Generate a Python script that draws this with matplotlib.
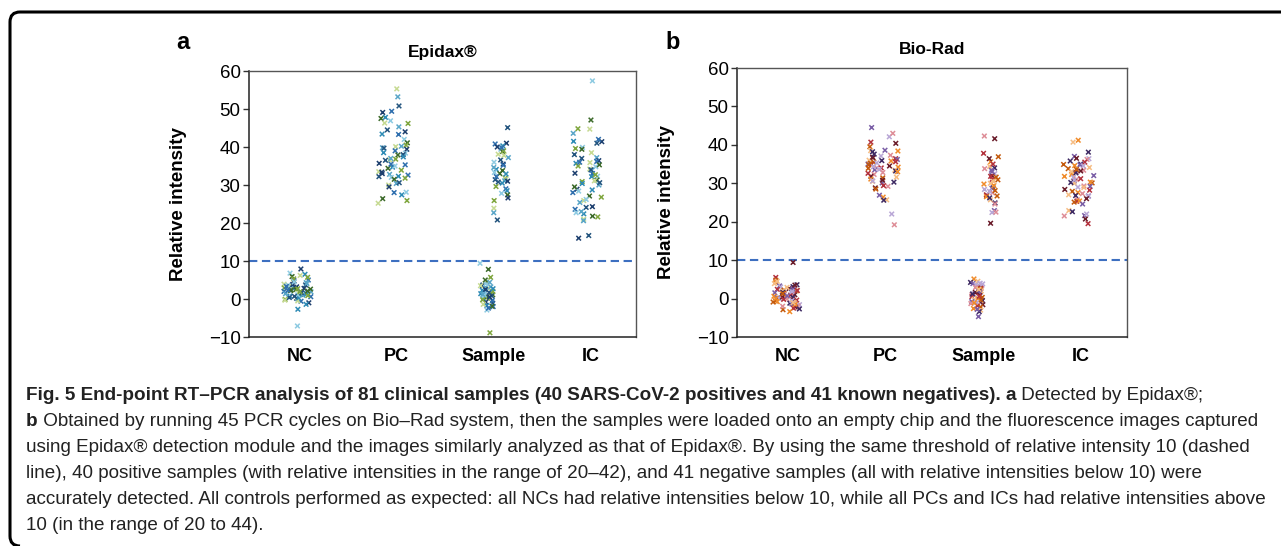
import numpy as np
import matplotlib
matplotlib.use("Agg")
import matplotlib.pyplot as plt
from matplotlib.path import Path
from matplotlib.patches import PathPatch

# ---------------- data ----------------
categories = ["NC", "PC", "Sample", "IC"]
threshold = 10

# Panel a (Epidax)
epi_nc = [7.9, 5.0, 6.5, 6.8, 5.9, 5.7, 3.9, 4.3, 3.7, 3.2, 3.0, 3.1, 2.6, 2.5, 2.7,
          1.5, 1.9, 1.6, 1.8, 0.6, 0.8, 0.5, 1.2, -0.1, -0.3, 0.0, 0.2, -1.0, -0.6,
          -2.7, -7.1, 2.2, 2.9, 3.4, 1.0, 0.4, 4.8, 2.0, 1.3, 3.6, 2.4, 0.9, -0.5,
          4.1, 1.7, 2.8, 3.3, 0.3, 1.1, 2.1, 5.3, 6.2, 1.4, 0.7, 3.8, 2.3, -1.4,
          4.5, 2.6, 1.9]
epi_pc = [55.3, 53.2, 50.8, 49.1, 49.4, 47.8, 46.9, 47.5, 46.2, 46.3, 45.3, 44.5, 44.0,
          43.3, 43.4, 42.0, 41.1, 40.5, 40.1, 39.8, 39.7, 39.4, 39.0, 38.5, 38.4, 37.9,
          36.8, 36.6, 37.0, 36.5, 35.7, 35.3, 34.7, 35.0, 34.4, 33.9, 33.5, 32.8, 32.2,
          33.4, 32.6, 32.3, 32.0, 31.5, 31.8, 30.0, 30.4, 30.6, 29.5, 28.0, 27.4, 28.1,
          26.4, 25.9, 25.2, 40.2, 38.0, 33.0, 35.5, 37.4]
epi_sample_pos = [45.1, 41.0, 40.8, 40.3, 39.4, 38.8, 39.0, 38.1, 37.2, 36.6, 35.5, 35.2,
                  34.1, 33.3, 33.0, 31.8, 31.6, 31.1, 31.4, 31.0, 29.0, 28.5, 27.8, 27.4,
                  25.9, 23.9, 22.7, 20.8, 40.0, 32.2, 30.5, 36.0, 33.8, 29.6, 37.8, 34.6,
                  30.8, 26.6, 39.8, 32.9]
epi_sample_neg = [9.4, 7.8, 5.7, 4.6, 4.4, 3.7, 3.4, 1.9, 2.3, 1.5, 1.1, 0.2, 0.3, 0.0,
                  -1.1, -0.8, -2.0, -1.7, -2.9, -1.9, -8.9, 2.8, 3.0, 0.8, 2.5, -0.4,
                  1.4, 4.0, 0.6, 2.0, -1.4, 3.2, 1.7, 0.5, -2.4, 2.7, 1.0, 5.0, -0.2,
                  3.5, 1.2]
epi_ic = [57.4, 47.1, 44.8, 44.7, 43.6, 41.0, 41.4, 42.0, 41.5, 39.9, 39.4, 39.6, 38.5,
          37.2, 37.0, 36.4, 36.2, 35.7, 34.8, 35.3, 35.0, 34.2, 33.9, 34.0, 33.1, 33.0,
          32.2, 32.3, 31.3, 30.9, 31.1, 30.0, 30.6, 28.9, 28.0, 28.7, 28.4, 27.1, 26.8,
          25.9, 25.4, 24.1, 24.3, 23.6, 22.4, 22.7, 21.8, 21.6, 21.0, 20.6, 16.7, 16.0,
          36.0, 30.4, 26.2, 29.5, 32.7, 35.9, 23.0, 38.0]

# Panel b (Bio-Rad)
bio_nc = [9.4, 5.5, 4.8, 4.2, 3.9, 3.6, 3.3, 3.0, 2.8, 2.6, 2.4, 2.2, 2.0, 1.9, 1.7,
          1.5, 1.4, 1.2, 1.0, 0.9, 0.8, 0.6, 0.5, 0.3, 0.2, 0.0, -0.1, -0.3, -0.4,
          -0.6, -0.8, -1.0, -1.2, -1.4, -1.6, -1.9, -2.2, -2.5, -2.9, -3.4, 4.5,
          3.1, 2.5, 1.8, 1.1, 0.4, -0.2, -0.9, -1.5, 2.9, 1.6, 0.7, -0.5, -2.0,
          3.5, 2.1, 1.3, 0.1, -1.1, -2.7]
bio_pc = [44.5, 42.1, 43.0, 40.4, 40.7, 39.5, 38.4, 38.5, 38.2, 38.6, 37.1, 37.3, 36.6,
          36.4, 35.5, 35.8, 36.0, 35.9, 35.0, 35.3, 34.0, 34.5, 34.0, 34.8, 34.2, 33.4,
          33.2, 33.5, 33.6, 32.3, 31.8, 32.6, 31.4, 31.1, 30.5, 30.3, 30.1, 30.6, 29.2,
          28.8, 29.4, 28.5, 26.4, 25.7, 25.6, 26.9, 22.0, 19.2, 36.8, 34.9, 35.2, 33.0,
          31.6, 37.6, 36.2, 34.3, 32.8, 30.8, 35.6, 33.9]
bio_sample_pos = [42.3, 41.6, 37.8, 36.9, 35.6, 34.4, 34.0, 33.4, 32.5, 33.8, 32.0, 31.0,
                  30.9, 29.8, 30.0, 28.8, 28.7, 28.4, 27.5, 26.8, 27.0, 26.7, 26.5, 25.7,
                  24.9, 22.9, 22.4, 22.5, 19.6, 35.0, 31.6, 29.4, 30.5, 26.2, 33.0, 27.9,
                  24.6, 36.4, 31.8, 28.1]
bio_sample_neg = [5.1, 4.5, 4.2, 3.9, 3.6, 3.3, 3.0, 2.7, 2.5, 2.2, 2.0, 1.8, 1.5, 1.3,
                  1.0, 0.8, 0.5, 0.3, 0.0, -0.2, -0.5, -0.8, -1.0, -1.3, -1.6, -1.9,
                  -2.2, -2.6, -3.0, -3.4, -4.7, 3.8, 2.9, 1.6, 0.6, -0.4, -1.1, 2.4,
                  1.2, -2.8, 4.0]
bio_ic = [41.2, 40.7, 38.1, 37.0, 36.4, 36.2, 36.5, 35.5, 34.9, 34.6, 34.1, 35.0, 34.8,
          34.5, 33.4, 33.2, 32.9, 33.8, 32.3, 33.0, 32.7, 32.0, 31.5, 31.0, 30.6, 31.2,
          30.1, 30.3, 30.0, 30.2, 29.2, 29.0, 29.3, 28.4, 28.2, 27.9, 27.6, 27.0, 26.8,
          26.7, 26.6, 25.7, 26.0, 25.3, 25.1, 25.4, 22.9, 22.6, 21.6, 22.0, 21.5, 20.7,
          19.5, 33.6, 31.8, 28.9, 35.8, 24.6, 30.8, 27.3]

# groups: (category index, values)
panel_a = [(0, epi_nc), (1, epi_pc), (2, epi_sample_neg), (2, epi_sample_pos), (3, epi_ic)]
panel_b = [(0, bio_nc), (1, bio_pc), (2, bio_sample_neg), (2, bio_sample_pos), (3, bio_ic)]

pal_a = ["#1d3f6e", "#2f6fae", "#2e8bb5", "#8fcbe2", "#3c6a2a", "#7fa63e", "#c6da92",
         "#5aa6c8", "#24557f"]
pal_b = ["#6a1c2a", "#b3323d", "#c45a0c", "#f08b2a", "#f6bd84", "#3e2a63", "#7a5ea6",
         "#b9a7d6", "#de8e98"]

# group layout: (center shift, jitter half-width) per group order
group_layout = [(-0.02, 0.14), (-0.03, 0.16), (-0.07, 0.07), (0.08, 0.08), (-0.03, 0.16)]

# ---------------- figure ----------------
W, H = 1281, 546
fig = plt.figure(figsize=(W / 100, H / 100), dpi=100)
plt.rcParams["font.family"] = ["Liberation Sans", "DejaVu Sans"]


def fx(px):
    return px / W


def fy(py):
    return 1 - py / H


rng = np.random.default_rng(7)


def draw_panel(ax, groups, pal, title, letter, letter_xy):
    k = 0
    for (ci, vals), (shift, hw) in zip(groups, group_layout):
        vals = np.asarray(vals, dtype=float)
        jit = rng.uniform(-hw, hw, len(vals))
        cols = [pal[(k + j) % len(pal)] for j in range(len(vals))]
        k += len(vals)
        ax.scatter(ci + shift + jit, vals, marker="x", s=11, linewidths=1.1, c=cols, zorder=3)
    ax.axhline(threshold, color="#3d6fc0", linestyle=(0, (4, 2.2)), linewidth=1.5, zorder=2)
    ax.set_xlim(-0.52, 3.47)
    ax.set_ylim(-10, 60)
    ax.set_yticks([-10, 0, 10, 20, 30, 40, 50, 60])
    ax.set_yticklabels(["\u221210", "0", "10", "20", "30", "40", "50", "60"])
    ax.set_xticks(range(len(categories)))
    ax.set_xticklabels(categories, fontweight="bold", fontsize=13)
    ax.tick_params(axis="x", length=0, pad=8)
    ax.tick_params(axis="y", labelsize=13.5, length=4, width=1, pad=2, color="#333333")
    for s in ["left", "bottom"]:
        ax.spines[s].set_color("#222222")
        ax.spines[s].set_linewidth(1.1)
    for s in ["top", "right"]:
        ax.spines[s].set_color("#555555")
        ax.spines[s].set_linewidth(1.0)
    ax.set_ylabel("Relative intensity", fontweight="bold", fontsize=13.5)
    ax.yaxis.set_label_coords(-0.16, 0.5)
    ax.set_title(title, fontweight="bold", fontsize=12.5, pad=10)
    fig.text(fx(letter_xy[0]), fy(letter_xy[1]), letter, fontweight="bold", fontsize=17,
             ha="center", va="center")


ax1 = fig.add_axes([fx(249), fy(337), fx(636) - fx(249), fy(71) - fy(337)])
ax2 = fig.add_axes([fx(737), fy(337), fx(1127) - fx(737), fy(68) - fy(337)])
draw_panel(ax1, panel_a, pal_a, "Epidax\u00ae", "a", (183, 43))
draw_panel(ax2, panel_b, pal_b, "Bio-Rad", "b", (673, 43))

# ---------------- frame ----------------
r = 10
verts = [(W + 5, 12), (10 + r, 12), (10, 12), (10, 12 + r), (10, H - r), (10, H), (10 + r, H)]
codes = [Path.MOVETO, Path.LINETO, Path.CURVE3, Path.CURVE3, Path.LINETO, Path.CURVE3, Path.CURVE3]
verts_f = [(fx(x), fy(y)) for x, y in verts]
fig.patches.append(PathPatch(Path(verts_f, codes), transform=fig.transFigure, fill=False,
                             edgecolor="black", linewidth=2.2, clip_on=False))

# ---------------- caption ----------------
caption_lines = [
    [("Fig. 5 End-point RT\u2013PCR analysis of 81 clinical samples (40 SARS-CoV-2 positives and 41 known negatives). a", "bold"),
     (" Detected by Epidax\u00ae;", "normal")],
    [("b", "bold"),
     (" Obtained by running 45 PCR cycles on Bio\u2013Rad system, then the samples were loaded onto an empty chip and the fluorescence images captured", "normal")],
    [("using Epidax\u00ae detection module and the images similarly analyzed as that of Epidax\u00ae. By using the same threshold of relative intensity 10 (dashed", "normal")],
    [("line), 40 positive samples (with relative intensities in the range of 20\u201342), and 41 negative samples (all with relative intensities below 10) were", "normal")],
    [("accurately detected. All controls performed as expected: all NCs had relative intensities below 10, while all PCs and ICs had relative intensities above", "normal")],
    [("10 (in the range of 20 to 44).", "normal")],
]
line_y = [395, 421, 447, 473, 500, 526]
x0 = 26

renderer = fig.canvas.get_renderer()


def line_width(segs, fs):
    total = 0
    for txt, wt in segs:
        t = fig.text(0, 0, txt, fontsize=fs, fontweight=wt, family="Liberation Sans")
        total += t.get_window_extent(renderer).width
        t.remove()
    return total


max_w10 = max(line_width(s, 10) for s in caption_lines)
cap_fs = 10 * (1272 - x0) / max_w10

for segs, yy in zip(caption_lines, line_y):
    xcur = x0
    for txt, wt in segs:
        t = fig.text(fx(xcur), fy(yy), txt, fontsize=cap_fs, fontweight=wt,
                     family="Liberation Sans", ha="left", va="center", color="#222222")
        xcur += t.get_window_extent(renderer).width

fig.savefig("out.png", dpi=100)
